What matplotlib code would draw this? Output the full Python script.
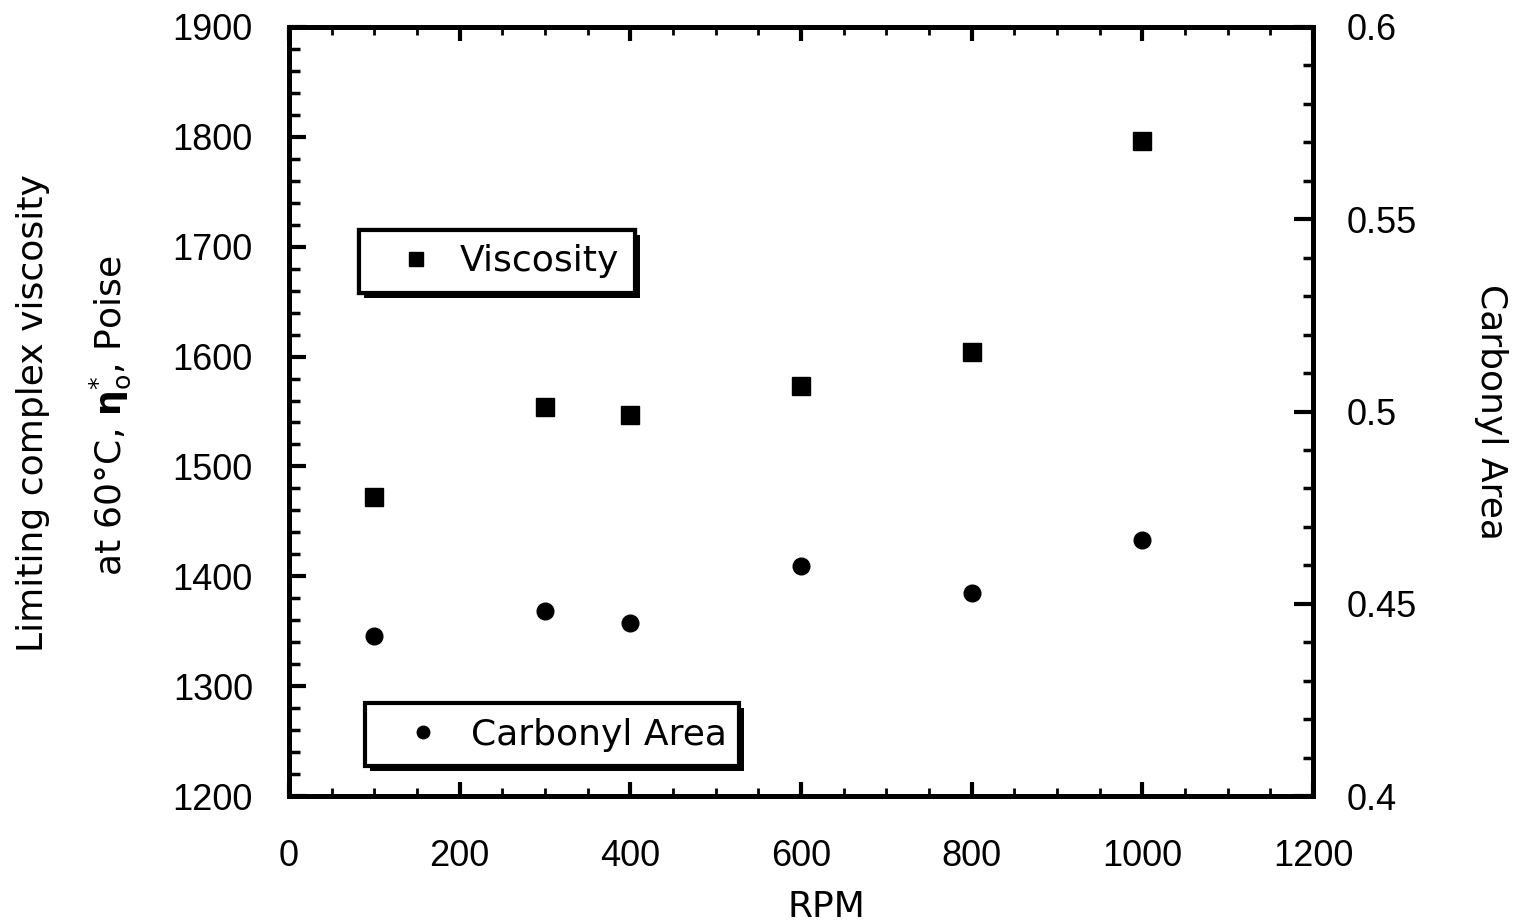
import matplotlib
matplotlib.use("Agg")
import matplotlib.pyplot as plt
from matplotlib.ticker import MultipleLocator, FuncFormatter
from matplotlib.patches import Rectangle

rpm = [100, 300, 400, 600, 800, 1000]
viscosity = [1472, 1554, 1547, 1573, 1604, 1796]
carbonyl = [0.4417, 0.4482, 0.4451, 0.4597, 0.4529, 0.4666]

plt.rcParams['font.family'] = ['Liberation Sans', 'DejaVu Sans']
plt.rcParams['mathtext.fontset'] = 'custom'
plt.rcParams['mathtext.rm'] = 'DejaVu Sans'
plt.rcParams['mathtext.it'] = 'DejaVu Sans'
plt.rcParams['mathtext.bf'] = 'DejaVu Sans:bold'

LBL = ['DejaVu Sans']

W, H = 1517, 923
fig = plt.figure(figsize=(W / 100, H / 100), dpi=100)
ax = fig.add_axes([289 / W, 1 - 796 / H, (1313 - 289) / W, (796 - 27) / H])
ax2 = ax.twinx()

fs = 26
h1, = ax.plot(rpm, viscosity, 's', color='black', markersize=13.5, label='Viscosity', zorder=5)
h2, = ax2.plot(rpm, carbonyl, 'o', color='black', markersize=12, label='Carbonyl Area', zorder=5)

ax.set_xlim(0, 1200)
ax.set_ylim(1200, 1900)
ax2.set_ylim(0.4, 0.6)
ax.xaxis.set_major_locator(MultipleLocator(200))
ax.xaxis.set_minor_locator(MultipleLocator(50))
ax.yaxis.set_major_locator(MultipleLocator(100))
ax.yaxis.set_minor_locator(MultipleLocator(20))
ax2.yaxis.set_major_locator(MultipleLocator(0.05))
ax2.yaxis.set_minor_locator(MultipleLocator(0.01))
ax2.yaxis.set_major_formatter(FuncFormatter(lambda v, p: ('%.2f' % v).rstrip('0').rstrip('.')))

for a in (ax, ax2):
    for s in a.spines.values():
        s.set_linewidth(3.5)

ax.tick_params(axis='x', which='major', direction='in', length=10, width=3, labelsize=fs, pad=31, top=True)
ax.tick_params(axis='x', which='minor', direction='in', length=6, width=2, top=True)
ax.tick_params(axis='y', which='major', direction='in', length=12, width=3, labelsize=fs, pad=26, right=False)
ax.tick_params(axis='y', which='minor', direction='in', length=8, width=2.5, right=False)
ax2.tick_params(axis='y', which='major', direction='in', length=14, width=3, labelsize=fs, pad=24)
ax2.tick_params(axis='y', which='minor', direction='in', length=7, width=2.5)

ax.set_xlabel('RPM', fontsize=fs, family=LBL)
ax.xaxis.set_label_coords(0.525, -0.122)
ax.xaxis.label.set_va('top')

fig.text(0.022, 0.553, 'Limiting complex viscosity', rotation=90, fontsize=fs, family=LBL,
         ha='center', va='center')
fig.text(0.073, 0.55, r'at 60°C, $\mathbf{\eta}^{*}_{o}$, Poise', rotation=90, fontsize=fs, family=LBL,
         ha='center', va='center')
fig.text(0.983, 0.554, 'Carbonyl Area', rotation=-90, fontsize=fs, family=LBL, ha='center', va='center')

def make_legend(a, handle, box, textpad):
    leg = a.legend(handles=[handle], loc='center', bbox_to_anchor=box, mode='expand',
                   prop={'family': LBL, 'size': fs}, frameon=True, fancybox=False,
                   edgecolor='black', framealpha=1,
                   borderpad=0.4, borderaxespad=0, handletextpad=textpad, handlelength=2.4,
                   markerscale=0.75)
    leg.get_frame().set_linewidth(3)
    leg.set_zorder(10)
    return leg

leg1 = make_legend(ax, h1, (0.068, 0.650, 0.270, 0.091), 0.0)
ax.add_artist(leg1)
leg2 = make_legend(ax2, h2, (0.074, 0.035, 0.365, 0.089), 0.15)

fig.canvas.draw()
for leg in (leg1, leg2):
    bb = leg.get_frame().get_window_extent()
    fig.patches.append(Rectangle((bb.x0 + 5, bb.y0 - 5), bb.width, bb.height,
                                 transform=None, facecolor='black', edgecolor='none',
                                 zorder=0, figure=fig))
ax.set_zorder(2)
ax2.set_zorder(3)
ax.patch.set_visible(False)

fig.savefig('out.png', dpi=100)
